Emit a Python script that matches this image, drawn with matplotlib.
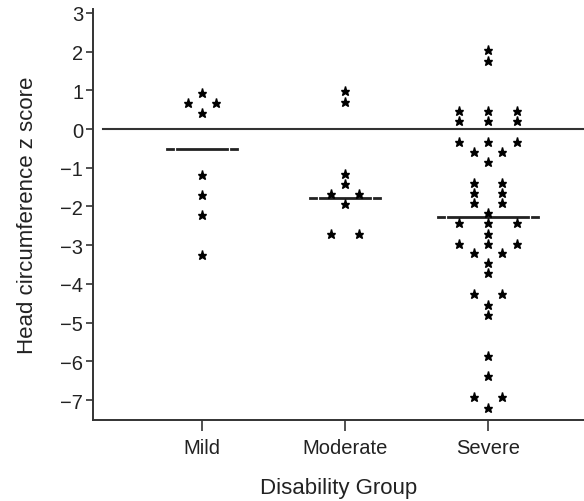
import matplotlib
matplotlib.use('Agg')
import matplotlib.pyplot as plt
from collections import Counter

plt.rcParams['font.family'] = ['Liberation Sans', 'DejaVu Sans']

groups = ['Mild', 'Moderate', 'Severe']
mild = [0.93, 0.67, 0.67, 0.41, -1.19, -1.71, -2.22, -3.26]
moderate = [0.97, 0.69, -1.16, -1.42, -1.68, -1.68, -1.94, -2.72, -2.72]
severe = [2.03, 1.75, 0.46, 0.46, 0.46, 0.20, 0.20, 0.20, -0.33, -0.33, -0.33,
          -0.60, -0.60, -0.86, -1.40, -1.40, -1.64, -1.64, -1.90, -1.90, -2.16,
          -2.43, -2.43, -2.43, -2.70, -2.96, -2.96, -2.96, -3.21, -3.21, -3.47,
          -3.73, -4.27, -4.27, -4.54, -4.80, -5.86, -6.38, -6.92, -6.92, -7.20]
group_lines = [-0.52, -1.78, -2.28]
yticks = [3, 2, 1, 0, -1, -2, -3, -4, -5, -6, -7]

fig = plt.figure(figsize=(5.84, 5.02), dpi=100)
ax = fig.add_axes([0.159, 0.161, 0.841, 0.819])

spacing = 0.2
half_w = [0.245, 0.245, 0.35]
for i, vals in enumerate([mild, moderate, severe]):
    xc = i + 1
    xs, ys = [], []
    for v, n in Counter(vals).items():
        for k in range(n):
            xs.append(xc + (k - (n - 1) / 2) * spacing)
            ys.append(v)
    ax.plot(xs, ys, '*', color='black', markersize=6.5, zorder=3)
    # group line with short detached ends
    w = half_w[i]
    m = group_lines[i]
    ax.plot([xc - w + 0.07, xc + w - 0.07], [m, m], color='#222222', lw=2, zorder=2)
    ax.plot([xc - w, xc - w + 0.045], [m, m], color='#222222', lw=2, zorder=2)
    ax.plot([xc + w - 0.045, xc + w], [m, m], color='#222222', lw=2, zorder=2)

ax.axhline(0, xmin=0.02, xmax=1, color='#333333', lw=1.5, zorder=1)

ax.set_xlim(0.238, 3.67)
ax.set_ylim(-7.52, 3.1)
ax.set_xticks([1, 2, 3])
ax.set_xticklabels(groups, fontsize=14.5, color='#222222')
ax.set_yticks(yticks)
ax.set_yticklabels([str(t).replace('-', '\u2212') for t in yticks], fontsize=14.5, color='#222222')
ax.tick_params(axis='x', length=8, width=1.2, color='#333333', pad=5)
ax.tick_params(axis='y', length=5, width=1.2, color='#333333', pad=2)

for s in ['top', 'right']:
    ax.spines[s].set_visible(False)
for s in ['left', 'bottom']:
    ax.spines[s].set_color('#333333')
    ax.spines[s].set_linewidth(1.4)

ax.set_xlabel('Disability Group', fontsize=16, color='#222222', labelpad=14)
ax.set_ylabel('Head circumference z score', fontsize=16, color='#222222', labelpad=16)

fig.savefig('out.png', dpi=100)
